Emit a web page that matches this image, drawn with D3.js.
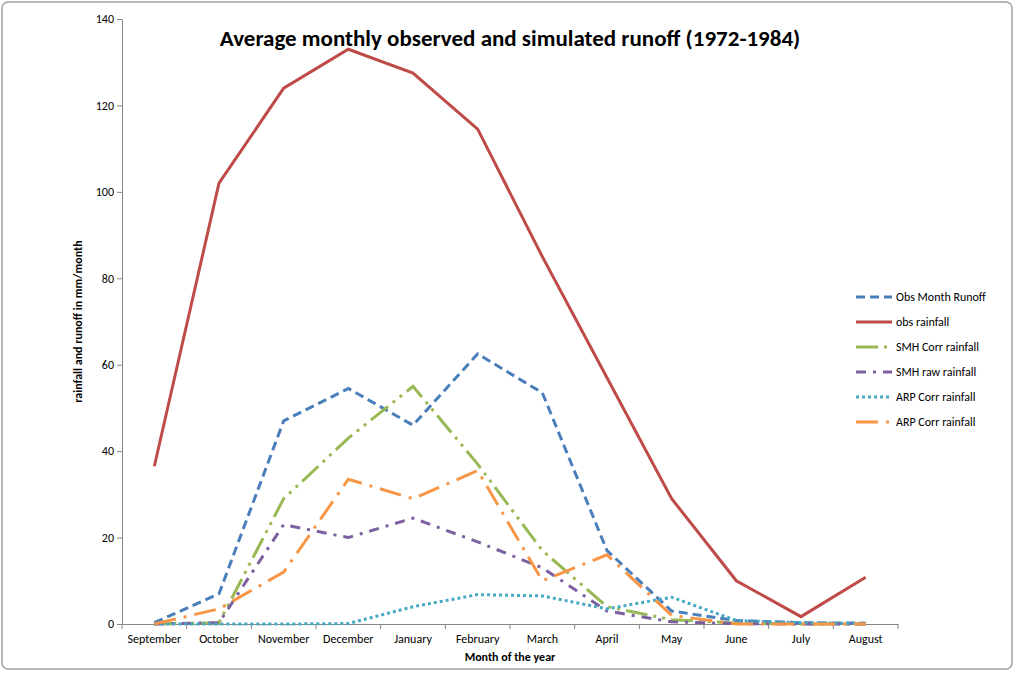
<!DOCTYPE html>
<html><head><meta charset="utf-8">
<script src="https://cdn.jsdelivr.net/npm/d3@7"></script>
<style>body{margin:0;background:#fff;font-family:Carlito,Calibri,"Open Sans",sans-serif}</style>
</head><body><svg id="chart"></svg>
<script>
const months = ['September','October','November','December','January','February','March','April','May','June','July','August'];
const obsRunoff = [0.3, 7, 47, 54.5, 46, 62.5, 53.5, 17, 3, 0.8, 0.3, 0.2];
const obsRain = [36.5, 102, 124, 133, 127.5, 114.5, 85, 57, 29, 10, 1.7, 10.8];
const smhCorr = [0, 0.3, 29, 43, 55, 37, 17, 4, 1, 0.2, 0, 0];
const smhRaw = [0, 0.3, 23, 20, 24.5, 19, 13, 3, 0.5, 0.1, 0, 0];
const arpCorrTeal = [0, 0, 0, 0.1, 4, 6.8, 6.5, 3.5, 6.2, 0.8, 0.3, 0.1];
const arpCorrOrange = [0, 3.5, 12, 33.5, 29, 35.5, 10, 16, 2, 0, 0, 0];
const yTicks = [0, 20, 40, 60, 80, 100, 120, 140];

const series = [
  { name: 'Obs Month  Runoff', values: obsRunoff, color: '#4a7ebb', dash: '9,5' },
  { name: 'obs rainfall', values: obsRain, color: '#be4b48', dash: null },
  { name: 'SMH Corr rainfall', values: smhCorr, color: '#98b954', dash: '22,6,3,6,3,6' },
  { name: 'SMH raw rainfall', values: smhRaw, color: '#7d60a0', dash: '10,7,3,7' },
  { name: 'ARP Corr rainfall', values: arpCorrTeal, color: '#46aac5', dash: '3,3' },
  { name: 'ARP Corr rainfall', values: arpCorrOrange, color: '#f79646', dash: '22,8,3,8' }
];

const width = 1024, height = 677;
const margin = { top: 19, left: 122, bottom: 53, right: 126 };
const svg = d3.select('#chart').attr('width', width).attr('height', height);

svg.append('rect').attr('x', 2).attr('y', 2).attr('width', width - 14).attr('height', height - 10)
  .attr('rx', 6).attr('fill', '#fff').attr('stroke', '#a0a0a0').attr('stroke-width', 1.5);

const x = d3.scaleBand().domain(months).range([margin.left, width - margin.right]);
const y = d3.scaleLinear().domain([0, 140]).range([height - margin.bottom, margin.top]);

const yAxis = svg.append('g').attr('transform', `translate(${margin.left},0)`)
  .call(d3.axisLeft(y).tickValues(yTicks).tickSize(5).tickSizeOuter(0));
const xAxis = svg.append('g').attr('transform', `translate(0,${y(0)})`)
  .call(d3.axisBottom(x).tickSize(0).tickSizeOuter(0));
xAxis.selectAll('.tick').append('line')
  .attr('x1', -x.bandwidth() / 2).attr('x2', -x.bandwidth() / 2).attr('y2', 5).attr('stroke', '#868686');
xAxis.append('line').attr('x1', x.range()[1]).attr('x2', x.range()[1]).attr('y2', 5).attr('stroke', '#868686');
[yAxis, xAxis].forEach(a => {
  a.selectAll('.domain, line').attr('stroke', '#868686');
  a.selectAll('text').attr('font-size', 12).attr('fill', '#000').attr('font-family', 'Carlito,Calibri,"Open Sans",sans-serif');
});
xAxis.selectAll('text').attr('dy', '1.3em');

const line = d3.line().x((d, i) => x(months[i]) + x.bandwidth() / 2).y(d => y(d));
series.forEach(s => {
  svg.append('path').datum(s.values).attr('d', line).attr('fill', 'none')
    .attr('stroke', s.color).attr('stroke-width', 3).attr('stroke-dasharray', s.dash);
});

svg.append('text').attr('x', 510).attr('y', 46).attr('text-anchor', 'middle')
  .attr('font-size', 23).attr('font-weight', 'bold').text('Average monthly observed and simulated runoff (1972-1984)');
svg.append('text').attr('x', 510).attr('y', 661).attr('text-anchor', 'middle')
  .attr('font-size', 12).attr('font-weight', 'bold').text('Month of the year');
svg.append('text').attr('transform', `translate(82,${y(70)}) rotate(-90)`).attr('text-anchor', 'middle')
  .attr('font-size', 12).attr('font-weight', 'bold').text('rainfall and runoff in mm/month');

const legend = svg.append('g').attr('transform', 'translate(856,297)');
series.forEach((s, i) => {
  const g = legend.append('g').attr('transform', `translate(0,${i * 25})`);
  g.append('line').attr('x1', 0).attr('x2', 36).attr('stroke', s.color).attr('stroke-width', 3)
    .attr('stroke-dasharray', s.dash);
  g.append('text').attr('x', 40).attr('dy', '0.35em').attr('font-size', 12).text(s.name);
});
</script></body></html>
